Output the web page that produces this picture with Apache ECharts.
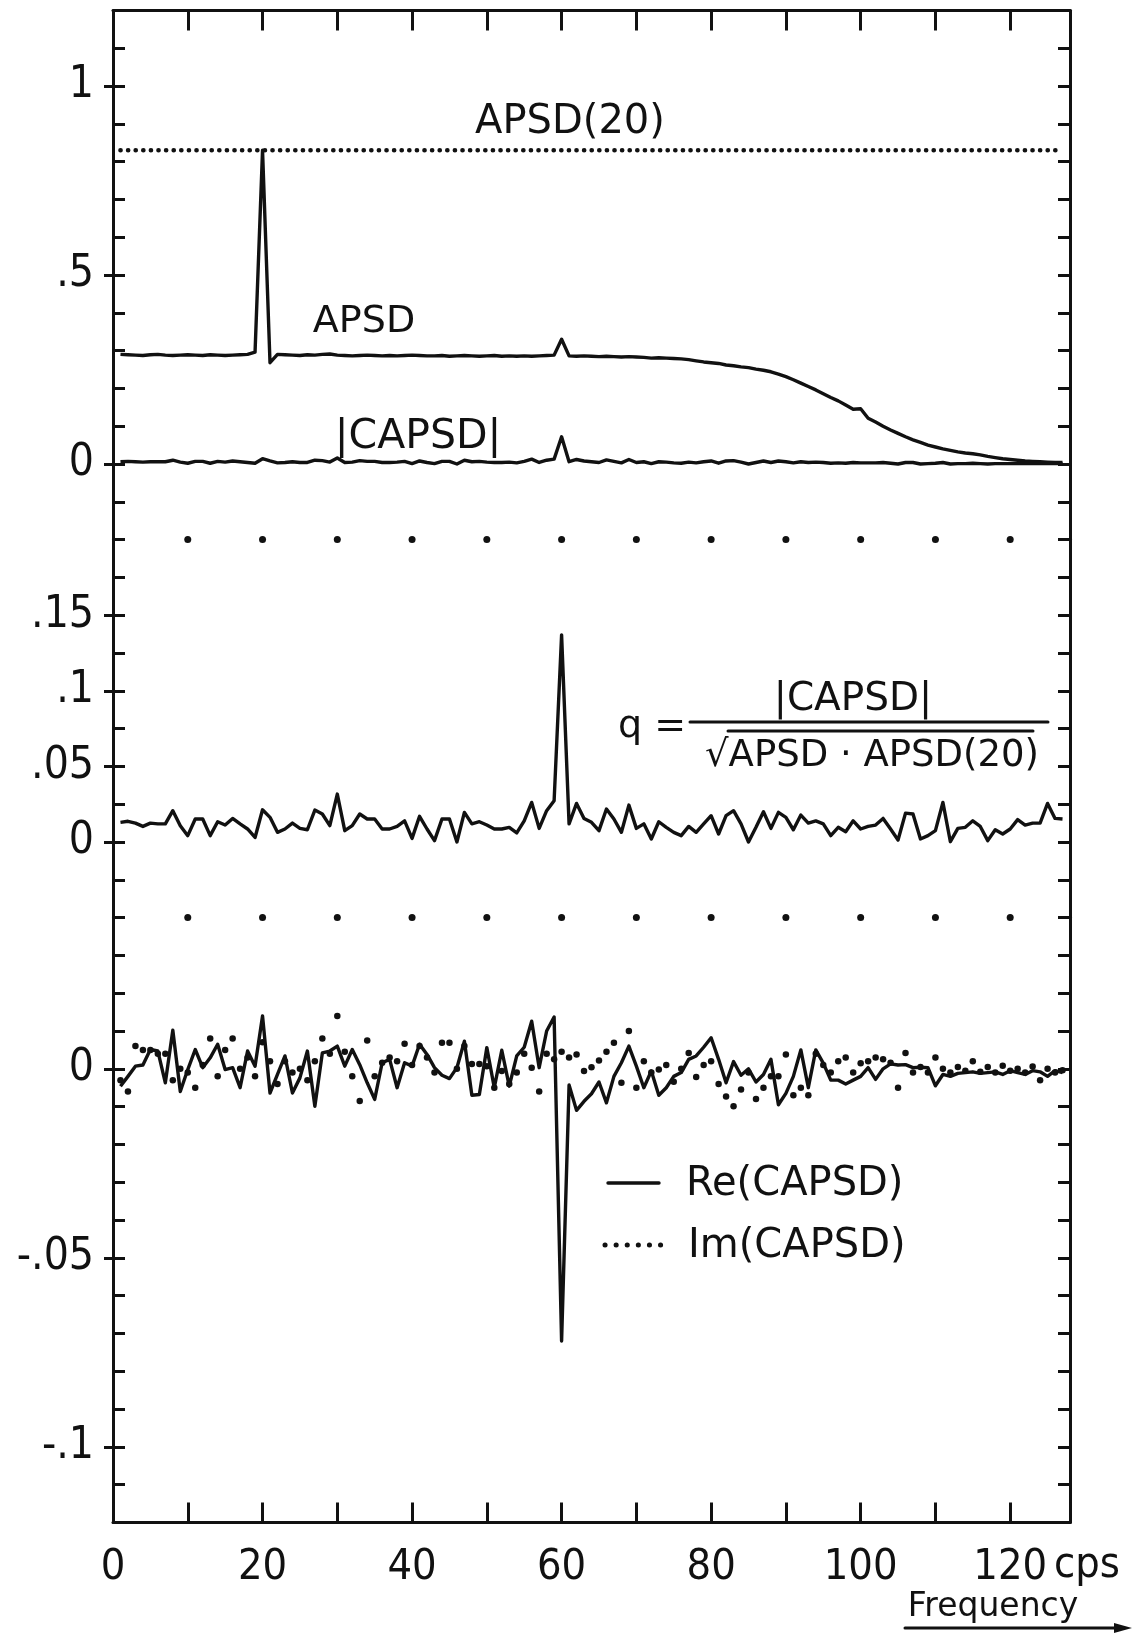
<!DOCTYPE html>
<html><head><meta charset="utf-8">
<script src="https://cdn.jsdelivr.net/npm/echarts@6/dist/echarts.min.js"></script>
<style>html,body{margin:0;padding:0;background:#fff}#c{width:1134px;height:1636px}</style>
</head><body><div id="c"></div>
<script>
// frequency grid (cps)
const freqs = Array.from({length: 127}, (_, i) => i + 1);

// Top panel: APSD, |CAPSD| and APSD(20) level
const apsd = [
0.290,0.289,0.288,0.287,0.289,0.290,0.288,0.287,0.288,0.289,
0.288,0.287,0.289,0.288,0.287,0.288,0.289,0.290,0.296,0.830,
0.268,0.290,0.289,0.288,0.287,0.289,0.288,0.290,0.291,0.288,
0.287,0.286,0.287,0.288,0.287,0.286,0.287,0.286,0.287,0.288,
0.287,0.286,0.286,0.287,0.285,0.286,0.287,0.286,0.285,0.286,
0.287,0.285,0.286,0.285,0.286,0.285,0.286,0.287,0.288,0.330,
0.286,0.285,0.286,0.285,0.284,0.285,0.284,0.283,0.284,0.283,
0.282,0.280,0.281,0.280,0.279,0.278,0.276,0.273,0.270,0.268,
0.266,0.262,0.260,0.257,0.255,0.251,0.248,0.244,0.238,0.231,
0.223,0.214,0.205,0.196,0.186,0.176,0.167,0.156,0.145,0.146,
0.121,0.111,0.100,0.090,0.081,0.072,0.064,0.057,0.050,0.045,
0.040,0.036,0.032,0.029,0.027,0.024,0.020,0.017,0.014,0.012,
0.010,0.008,0.007,0.006,0.005,0.004,0.004];
const capsdAbs = [
0.006,0.007,0.006,0.005,0.006,0.006,0.006,0.010,0.005,0.002,
0.007,0.007,0.002,0.007,0.005,0.008,0.006,0.004,0.002,0.014,
0.008,0.003,0.004,0.006,0.004,0.004,0.010,0.009,0.005,0.016,
0.004,0.005,0.009,0.007,0.007,0.004,0.004,0.005,0.007,0.001,
0.008,0.004,0.001,0.007,0.007,0.000,0.010,0.006,0.007,0.005,
0.004,0.004,0.005,0.003,0.007,0.013,0.004,0.010,0.013,0.072,
0.006,0.012,0.008,0.006,0.004,0.011,0.007,0.003,0.012,0.004,
0.006,0.001,0.006,0.005,0.003,0.002,0.005,0.003,0.006,0.008,
0.002,0.008,0.009,0.005,0.000,0.004,0.008,0.004,0.008,0.006,
0.003,0.006,0.004,0.005,0.004,0.002,0.003,0.002,0.004,0.003,
0.003,0.003,0.004,0.002,0.000,0.004,0.004,0.000,0.001,0.002,
0.004,0.000,0.001,0.001,0.002,0.001,0.000,0.001,0.001,0.001,
0.001,0.001,0.001,0.001,0.001,0.001,0.001];
const apsd20Level = 0.83;

// Middle panel: ratio q
const qRatio = [
0.0130,0.0137,0.0125,0.0103,0.0125,0.0120,0.0120,0.0207,0.0108,0.0042,
0.0152,0.0152,0.0042,0.0134,0.0112,0.0156,0.0120,0.0086,0.0030,0.0213,
0.0163,0.0064,0.0086,0.0125,0.0090,0.0081,0.0211,0.0185,0.0108,0.0317,
0.0075,0.0108,0.0185,0.0152,0.0152,0.0086,0.0086,0.0103,0.0140,0.0024,
0.0170,0.0086,0.0009,0.0152,0.0152,0.0000,0.0196,0.0120,0.0134,0.0112,
0.0086,0.0086,0.0097,0.0060,0.0140,0.0262,0.0090,0.0207,0.0273,0.1370,
0.0120,0.0255,0.0156,0.0130,0.0075,0.0218,0.0152,0.0064,0.0244,0.0090,
0.0120,0.0020,0.0134,0.0097,0.0064,0.0042,0.0103,0.0064,0.0120,0.0174,
0.0053,0.0174,0.0207,0.0120,0.0000,0.0097,0.0200,0.0090,0.0196,0.0163,
0.0081,0.0178,0.0125,0.0140,0.0120,0.0042,0.0097,0.0068,0.0140,0.0086,
0.0103,0.0112,0.0156,0.0086,0.0013,0.0191,0.0185,0.0020,0.0042,0.0075,
0.0262,0.0002,0.0090,0.0097,0.0140,0.0103,0.0009,0.0081,0.0053,0.0086,
0.0148,0.0112,0.0125,0.0125,0.0255,0.0156,0.0152];

// Bottom panel: Re and Im of CAPSD
const reCapsd = [
-0.0046,-0.0020,0.0007,0.0010,0.0051,0.0047,-0.0037,0.0102,-0.0060,-0.0002,
0.0051,0.0003,0.0029,0.0065,-0.0002,0.0003,-0.0050,0.0047,0.0007,0.0140,
-0.0064,-0.0015,0.0034,-0.0064,-0.0024,0.0047,-0.0099,0.0042,0.0047,0.0060,
0.0007,0.0051,0.0011,-0.0037,-0.0081,0.0016,0.0025,-0.0050,0.0016,0.0007,
0.0065,0.0038,0.0003,-0.0017,-0.0026,0.0003,0.0073,-0.0070,-0.0068,0.0056,
-0.0050,0.0049,-0.0046,0.0034,0.0057,0.0126,0.0003,0.0100,0.0137,-0.0720,
-0.0043,-0.0110,-0.0086,-0.0066,-0.0035,-0.0090,-0.0020,0.0016,0.0060,0.0007,
-0.0050,-0.0006,-0.0070,-0.0050,-0.0020,-0.0010,0.0025,0.0034,0.0057,0.0082,
0.0025,-0.0037,0.0019,-0.0017,0.0000,-0.0035,-0.0015,0.0025,-0.0095,-0.0065,
-0.0020,0.0050,-0.0050,0.0050,0.0015,-0.0030,-0.0030,-0.0040,-0.0030,-0.0020,
0.0003,-0.0028,0.0000,0.0013,0.0010,0.0011,0.0003,0.0004,0.0003,-0.0045,
-0.0015,-0.0020,-0.0012,-0.0010,-0.0008,-0.0012,-0.0010,-0.0008,-0.0015,-0.0005,
-0.0010,-0.0015,-0.0005,-0.0008,-0.0020,-0.0005,-0.0010];
const imCapsd = [
-0.0030,-0.0060,0.0060,0.0050,0.0050,0.0040,0.0040,-0.0030,0.0000,-0.0010,
-0.0050,0.0010,0.0080,-0.0020,0.0050,0.0080,0.0000,0.0030,-0.0020,0.0070,
0.0020,-0.0040,0.0020,-0.0010,0.0000,-0.0030,0.0020,0.0080,0.0040,0.0140,
0.0045,-0.0020,-0.0085,0.0075,-0.0020,0.0016,0.0030,0.0020,0.0066,0.0010,
0.0060,0.0030,-0.0010,0.0069,0.0069,0.0000,0.0060,0.0013,0.0013,0.0007,
-0.0050,-0.0006,-0.0040,-0.0010,0.0040,0.0003,-0.0060,0.0040,0.0025,0.0045,
0.0030,0.0038,-0.0006,0.0004,0.0022,0.0045,0.0069,-0.0037,0.0100,-0.0050,
0.0020,-0.0010,-0.0002,0.0010,-0.0034,0.0000,0.0042,-0.0022,0.0010,0.0020,
-0.0040,-0.0073,-0.0099,-0.0055,-0.0010,-0.0080,-0.0050,-0.0020,-0.0020,0.0038,
-0.0070,-0.0050,-0.0070,0.0040,0.0010,-0.0010,0.0020,0.0030,-0.0010,0.0015,
0.0020,0.0030,0.0025,0.0016,-0.0050,0.0042,-0.0010,0.0005,-0.0010,0.0030,
0.0000,-0.0010,0.0005,-0.0005,0.0020,-0.0008,0.0005,-0.0010,0.0008,-0.0005,
0.0000,-0.0010,0.0006,-0.0030,0.0000,-0.0010,-0.0004];

// separator marker rows and tick labels
const markerFreqs = [10,20,30,40,50,60,70,80,90,100,110,120];
const xTickLabels = [0,20,40,60,80,100,120];
const topLabels = [0,0.5,1];
const midLabels = [0,0.05,0.1,0.15];
const botLabels = [0,-0.05,-0.1];

const INK = '#111';
const NUMFONT = "'DejaVu Sans Condensed','DejaVu Sans',sans-serif";
const TXTFONT = "'DejaVu Sans',sans-serif";
const S = 37.8, T0 = 10.4, L = 113, W = 957;
const panels = [
  {top: T0, h: 14*S, min: -0.2, max: 1.2, step: 0.1, labels: topLabels},
  {top: T0+14*S, h: 10*S, min: -0.05, max: 0.2, step: 0.025, labels: midLabels},
  {top: T0+24*S, h: 16*S, min: -0.12, max: 0.04, step: 0.01, labels: botLabels}
];
const fmt = v => {
  if (Math.abs(v) < 1e-9) return '0';
  const s = String(Math.abs(+(+v).toFixed(4))).replace(/^0/, '');
  return (v < 0 ? '-' : '') + s;
};
const lw = {color: INK, width: 3};

const grid = panels.map(p => ({left: L, width: W, top: p.top, height: p.h, containLabel: false, outerBoundsMode: 'none'}));
const xAxis = [0,1,2].map(i => ({
  gridIndex: i, type: 'value', min: 0, max: 128, interval: 10,
  show: i !== 1,
  position: i === 0 ? 'top' : 'bottom',
  axisLine: {show: true, onZero: false, lineStyle: lw},
  axisTick: {show: true, inside: true, length: 20, lineStyle: lw},
  axisLabel: i === 2 ? {show: true, customValues: xTickLabels, margin: 24, color: INK, fontSize: 43, fontFamily: NUMFONT} : {show: false},
  splitLine: {show: false}
}));
const yAxis = [];
panels.forEach((p, i) => {
  yAxis.push({gridIndex: i, type: 'value', min: p.min, max: p.max, interval: p.step, position: 'left',
    axisLine: {show: true, onZero: false, lineStyle: lw},
    axisTick: {show: true, inside: true, length: 12, lineStyle: lw},
    axisLabel: {show: false}, splitLine: {show: false}});
  yAxis.push({gridIndex: i, type: 'value', min: p.min, max: p.max, interval: p.step, position: 'left',
    axisLine: {show: false},
    axisTick: {show: true, inside: false, length: 9, customValues: p.labels, lineStyle: lw},
    axisLabel: {show: true, customValues: p.labels, formatter: fmt, margin: 19, color: INK, fontSize: 44, fontFamily: NUMFONT},
    splitLine: {show: false}});
  yAxis.push({gridIndex: i, type: 'value', min: p.min, max: p.max, interval: p.step, position: 'right',
    axisLine: {show: true, onZero: false, lineStyle: lw},
    axisTick: {show: true, inside: true, length: 12, lineStyle: lw},
    axisLabel: {show: false}, splitLine: {show: false}});
});

const pair = arr => freqs.map((f, i) => [f, arr[i]]);
const line = (xi, yi, arr) => ({type: 'line', xAxisIndex: xi, yAxisIndex: yi, data: pair(arr), symbol: 'none',
  lineStyle: {color: INK, width: 3.4, join: 'round'}, silent: true});
const dots = {color: INK, opacity: 1};

const series = [
  line(0, 0, apsd),
  line(0, 0, capsdAbs),
  {type: 'line', xAxisIndex: 0, yAxisIndex: 0, symbol: 'none', silent: true,
   data: [[freqs[0], apsd20Level], [freqs[freqs.length-1], apsd20Level]],
   lineStyle: {color: INK, width: 4.6, type: [0.1, 7.5], cap: 'round'}},
  line(1, 3, qRatio),
  {type: 'scatter', xAxisIndex: 1, yAxisIndex: 3, clip: false, symbolSize: 7, silent: true,
   itemStyle: dots, data: markerFreqs.map(f => [f, panels[1].max])},
  {type: 'scatter', xAxisIndex: 1, yAxisIndex: 3, clip: false, symbolSize: 7, silent: true,
   itemStyle: dots, data: markerFreqs.map(f => [f, panels[1].min])},
  line(2, 6, reCapsd),
  {type: 'scatter', xAxisIndex: 2, yAxisIndex: 6, symbolSize: 6.5, silent: true,
   itemStyle: dots, data: pair(imCapsd)}
];

const txt = (text, x, y, size, align, font) => ({type: 'text', x, y, silent: true,
  style: {text, fill: INK, font: `${size}px ${font || TXTFONT}`, textAlign: align || 'center', textVerticalAlign: 'middle'}});
const seg = (x1, y1, x2, y2, w, dash) => ({type: 'line', silent: true, shape: {x1, y1, x2, y2},
  style: {stroke: INK, lineWidth: w || 3, lineDash: dash || null, lineCap: 'round'}});

const graphic = [
  txt('APSD(20)', 570, 123, 40),
  txt('APSD', 364, 322, 38),
  txt('|CAPSD|', 418, 437, 41),
  txt('q =', 652, 727, 38),
  txt('|CAPSD|', 853, 700, 39),
  seg(690, 722, 1048, 722, 3),
  seg(728, 731, 1033, 731, 3),
  txt('√APSD · APSD(20)', 872, 756, 37),
  seg(608, 1183, 659, 1183, 3.4),
  txt('Re(CAPSD)', 686, 1185, 40, 'left'),
  seg(605, 1245, 662, 1245, 5, [0.1, 11]),
  txt('Im(CAPSD)', 688, 1247, 40, 'left'),
  txt('cps', 1054, 1566, 43, 'left', NUMFONT),
  txt('Frequency', 993, 1607, 33),
  seg(905, 1628, 1118, 1628, 3),
  {type: 'polygon', silent: true, shape: {points: [[1132, 1628], [1114, 1623], [1114, 1633]]}, style: {fill: INK}}
];

const chart = echarts.init(document.getElementById('c'), null, {renderer: 'canvas'});
chart.setOption({animation: false, backgroundColor: '#fff', grid, xAxis, yAxis, series, graphic});
</script></body></html>
